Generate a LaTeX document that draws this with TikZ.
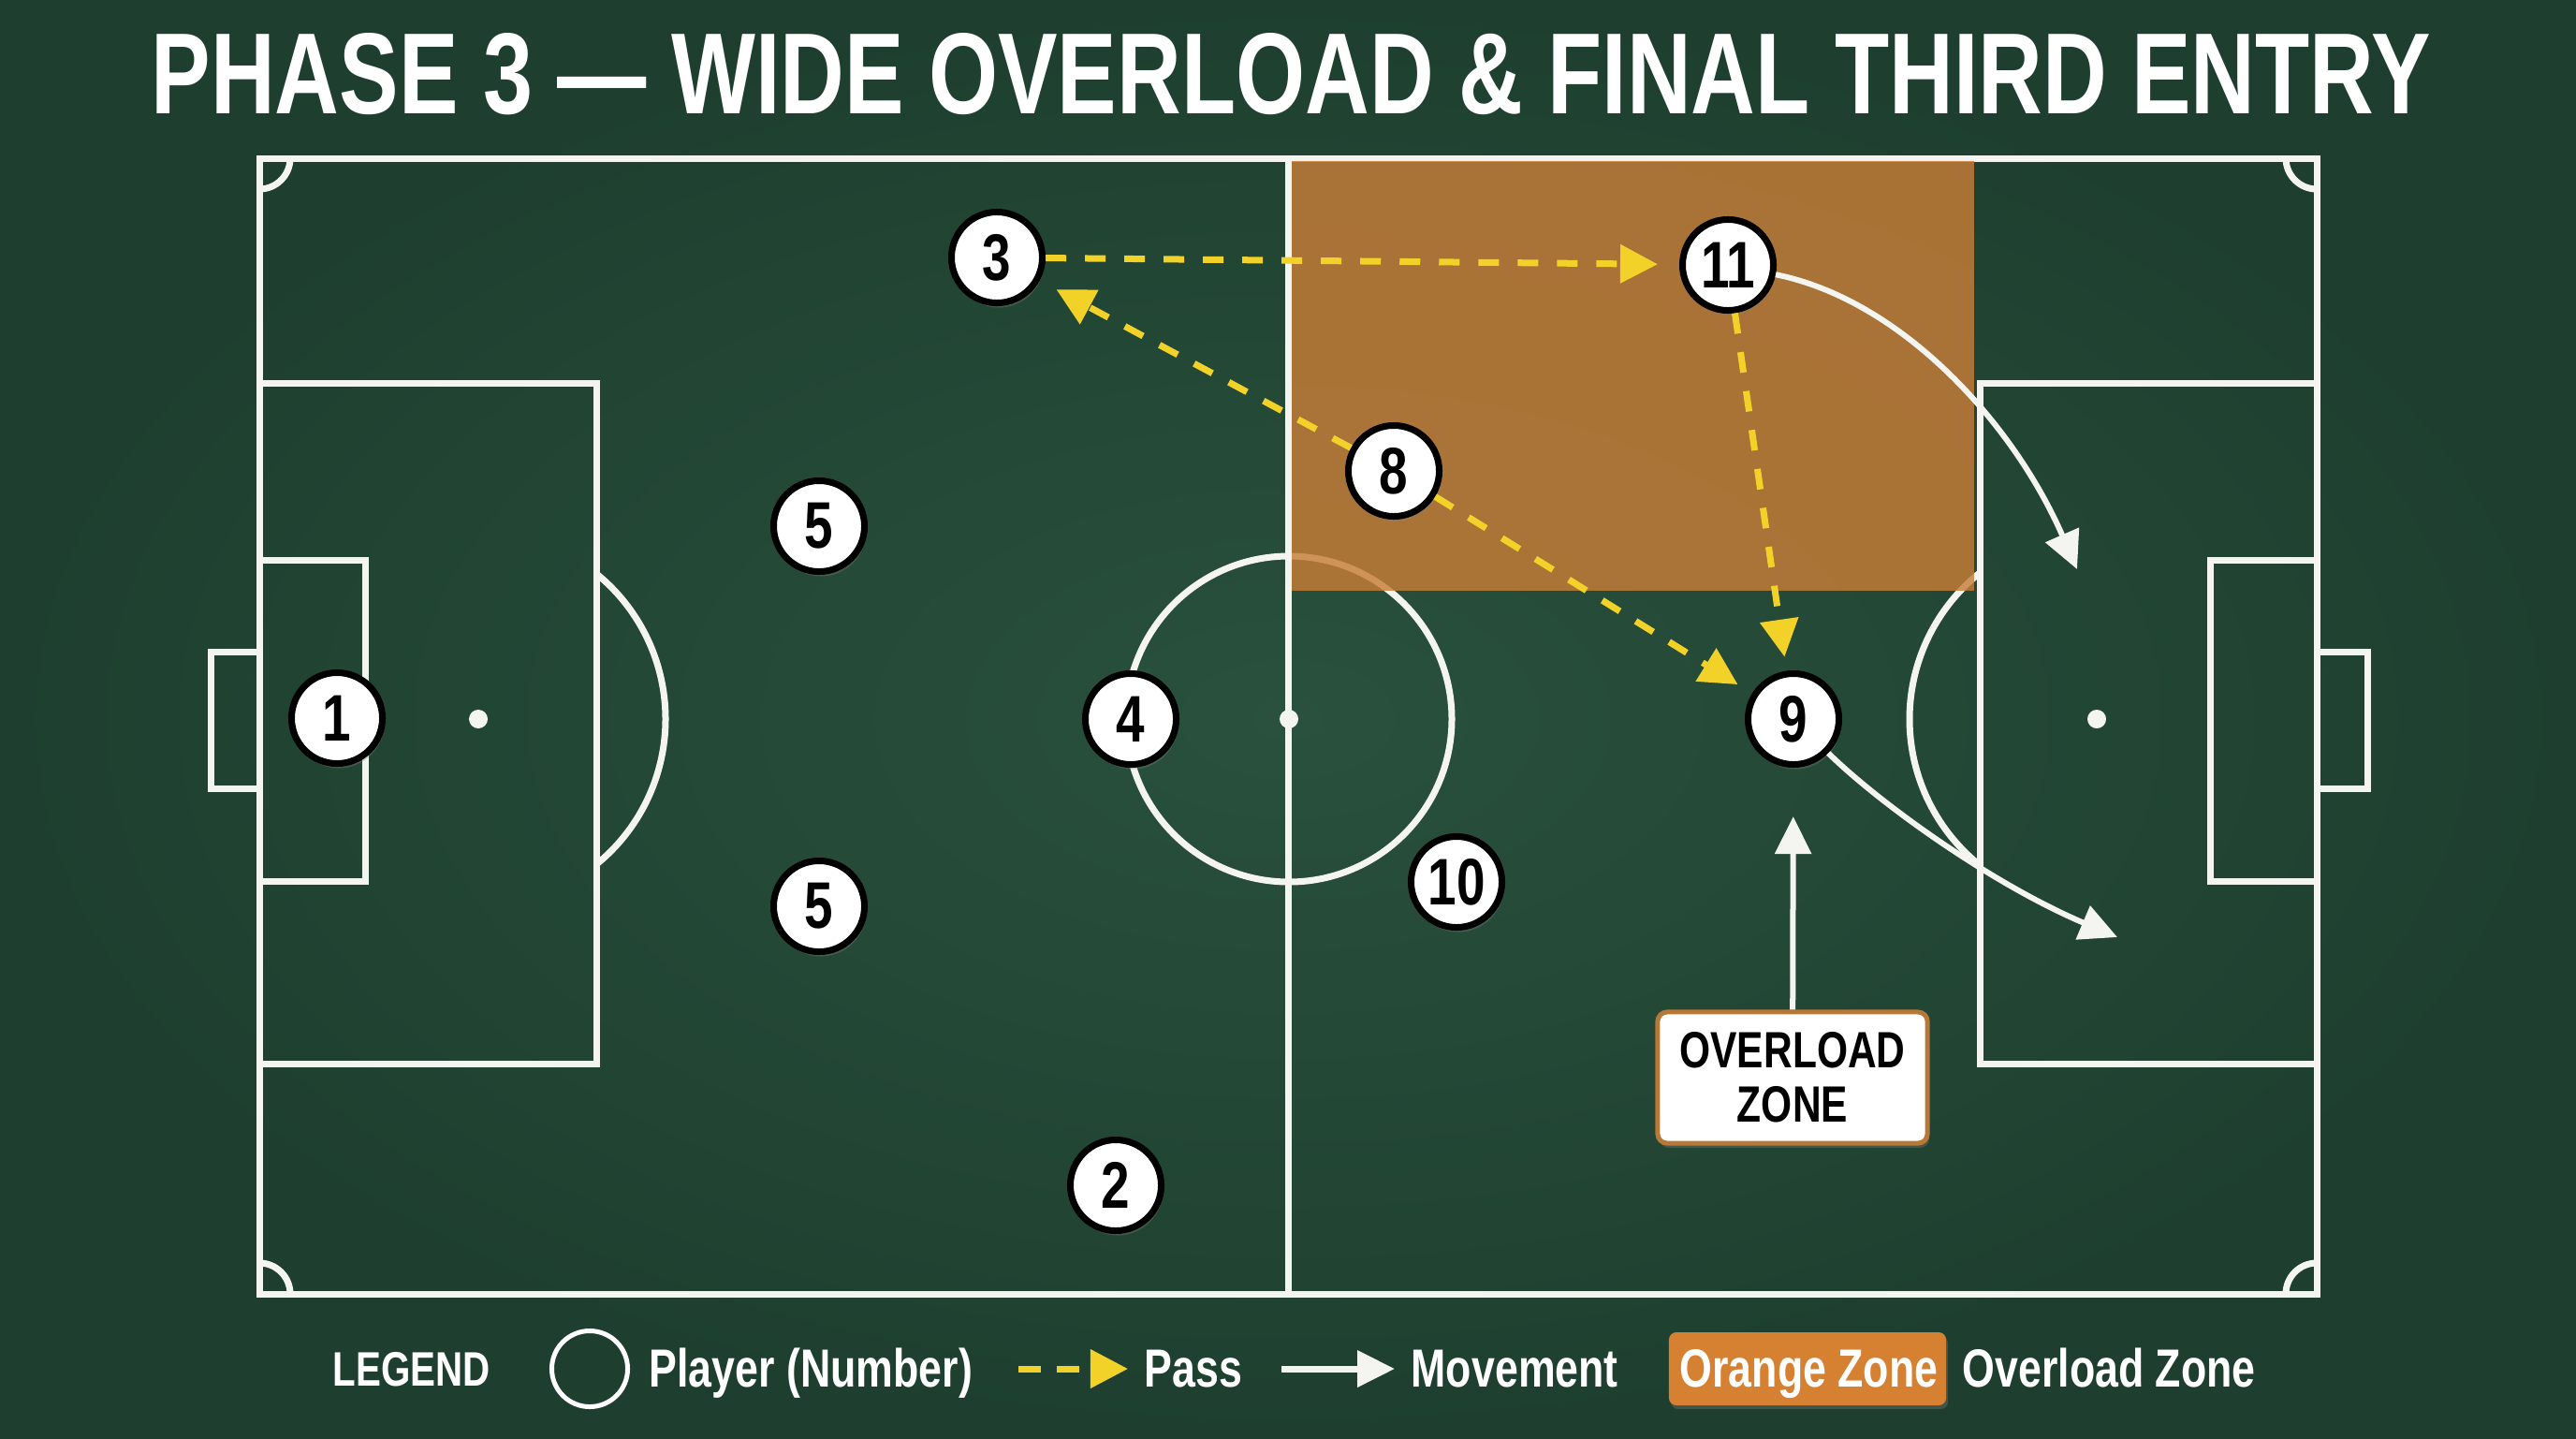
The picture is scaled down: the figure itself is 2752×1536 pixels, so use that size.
\documentclass[tikz,border=0pt]{standalone}
\usepackage{fontspec}
\setmainfont{Liberation Sans}
\newfontfamily\cf[FakeStretch=0.78]{Liberation Sans}
\usepackage{graphicx}
\usetikzlibrary{arrows.meta,shadows}
\definecolor{bgin}{RGB}{41,81,61}
\definecolor{bgout}{RGB}{30,63,47}
\definecolor{pitchline}{RGB}{244,244,240}
\definecolor{zoneor}{RGB}{200,125,55}
\definecolor{passy}{RGB}{242,210,40}
\definecolor{legor}{RGB}{214,128,50}
\definecolor{boxedge}{RGB}{184,120,55}
\tikzset{
  fieldline/.style={draw=pitchline, line width=0.07cm},
  player/.style={circle, draw=black, fill=white, line width=0.07cm, minimum size=0.97cm, inner sep=0pt,
    font=\cf\bfseries\fontsize{20}{20}\selectfont, text=black,
    drop shadow={shadow xshift=0.02cm, shadow yshift=-0.05cm, opacity=0.35}},
  pass/.style={draw=passy, line width=0.07cm, dash pattern=on 0.22cm off 0.2cm, -{Triangle[length=0.4cm,width=0.4cm]}},
  move/.style={draw=pitchline, line width=0.06cm, -{Triangle[length=0.4cm,width=0.38cm]}},
  legtext/.style={anchor=base west, inner sep=0pt, text=white, font=\cf\bfseries\fontsize{16.3}{16}\selectfont},
  zonebox/.style={draw=boxedge, fill=white, line width=0.05cm, rounded corners=0.1cm, minimum width=2.88cm,
    minimum height=1.4cm, align=center, inner sep=0pt, text=black,
    font=\cf\bfseries\fontsize{15.5}{16.5}\selectfont,
    drop shadow={shadow xshift=0.02cm, shadow yshift=-0.05cm, opacity=0.35}},
}
\begin{document}
\begin{tikzpicture}[x=0.01cm, y=-0.01cm]
\useasboundingbox (0,0) rectangle (2752,1536);
\shade[inner color=bgin, outer color=bgout] (0,0) rectangle (2752,1536);

% title
\node[anchor=base west, inner sep=0pt, text=white] (title) at (161,121)
  {\resizebox{24.33cm}{0.86cm}{\cf\bfseries PHASE 3 — WIDE OVERLOAD \& FINAL THIRD ENTRY}};

% pitch
\draw[fieldline] (277,169) rectangle (2475,1382);
\draw[fieldline] (1376,169) -- (1376,1382);
\draw[fieldline] (1377,768) circle[radius=174];
\fill[pitchline] (1377,768) circle[radius=10];
% left end
\draw[fieldline] (277,409) rectangle (637,1136);
\draw[fieldline] (277,598) rectangle (390,941);
\draw[fieldline] (225,696) rectangle (277,842);
\fill[pitchline] (511,768) circle[radius=10];
\draw[fieldline] (511,768) ++(-51:200) arc[start angle=-51, end angle=51, radius=200];
% right end
\draw[fieldline] (2115,409) rectangle (2475,1136);
\draw[fieldline] (2361,598) rectangle (2475,941);
\draw[fieldline] (2475,696) rectangle (2529,842);
\fill[pitchline] (2240,768) circle[radius=10];
\draw[fieldline] (2240,768) ++(129:200) arc[start angle=129, end angle=231, radius=200];
% corners
\draw[fieldline] (310,169) arc[start angle=0, end angle=90, radius=33];
\draw[fieldline] (2475,202) arc[start angle=90, end angle=180, radius=33];
\draw[fieldline] (277,1349) arc[start angle=-90, end angle=0, radius=33];
\draw[fieldline] (2442,1382) arc[start angle=180, end angle=270, radius=33];

% overload zone
\fill[zoneor, opacity=0.82] (1380,172) rectangle (2109,631);

% players
\node[player] (p3) at (1065,275) {3};
\node[player] (p11) at (1846,283) {11};
\node[player] (p8) at (1489,503) {8};
\node[player] (p5a) at (875,562) {5};
\node[player] (p1) at (360,767) {1};
\node[player] (p4) at (1208,768) {4};
\node[player] (p9) at (1916,768) {9};
\node[player] (p10) at (1556,942) {10};
\node[player] (p5b) at (875,968) {5};
\node[player] (p2) at (1192,1266) {2};

% passes
\draw[pass, shorten >=0.23cm] (p3) -- (p11);
\draw[pass, shorten >=0.2cm] (p8) -- (p3);
\draw[pass, shorten >=0.18cm] (p8) -- (p9);
\draw[pass, shorten >=0.15cm] (p11) -- (p9);

% movements
\coordinate (m11) at (2219,608);
\draw[move] (p11) .. controls (2030,320) and (2150,450) .. (m11);
\coordinate (m9) at (2262,1001);
\draw[move] (p9) .. controls (2010,860) and (2130,945) .. (m9);

% overload label
\node[zonebox] (oz) at (1915,1151) {OVERLOAD\\ZONE};
\draw[move, shorten >=0.52cm] (oz) -- (p9);

% legend
\node[anchor=base west, inner sep=0pt, text=white, font=\cf\bfseries\fontsize{14.7}{15}\selectfont] (lg) at (355,1480) {LEGEND};
\node[circle, draw=white, line width=0.05cm, minimum size=0.81cm, inner sep=0pt] (lc) at (630,1462) {};
\node[legtext] (lp) at (693,1481) {Player (Number)};
\coordinate (pa1) at (1088,1462);
\coordinate (pa2) at (1205,1462);
\draw[pass, dash pattern=on 0.24cm off 0.17cm] (pa1) -- (pa2);
\node[legtext] (lpass) at (1222,1481) {Pass};
\coordinate (ma1) at (1369,1462);
\coordinate (ma2) at (1490,1462);
\draw[move, line width=0.07cm] (ma1) -- (ma2);
\node[legtext] (lmv) at (1507,1481) {Movement};
\node[fill=legor, rounded corners=0.08cm, minimum width=2.96cm, minimum height=0.78cm, inner sep=0pt,
  drop shadow={shadow xshift=0.02cm, shadow yshift=-0.04cm, opacity=0.35}] (lob) at (1931,1462) {};
\node[legtext] (lot) at (1794,1481) {Orange Zone};
\node[legtext] (lov) at (2096,1481) {Overload Zone};
\end{tikzpicture}
\end{document}
